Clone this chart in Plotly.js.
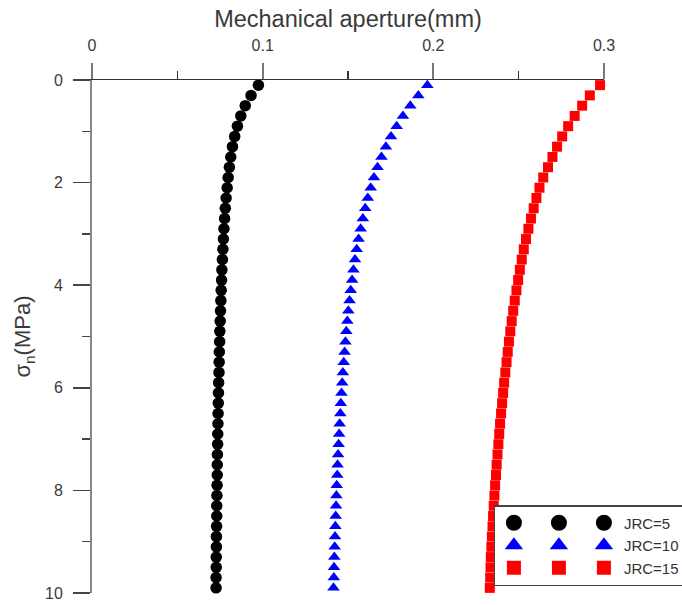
<!DOCTYPE html>
<html>
<head>
<meta charset="utf-8">
<script src="https://cdn.plot.ly/plotly-3.0.1.min.js"></script>
<style>
html,body{margin:0;padding:0;background:#fff;}
#chart{width:682px;height:605px;}
#chart .legend .traces{opacity:1 !important;}
</style>
</head>
<body>
<div id="chart"></div>
<script>
// Normal stress (MPa)
const sigmaN = [0.1,0.3,0.5,0.7,0.9,1.1,1.3,1.5,1.7,1.9,2.1,2.3,2.5,2.7,2.9,3.1,3.3,3.5,3.7,3.9,
  4.1,4.3,4.5,4.7,4.9,5.1,5.3,5.5,5.7,5.9,6.1,6.3,6.5,6.7,6.9,7.1,7.3,7.5,7.7,7.9,
  8.1,8.3,8.5,8.7,8.9,9.1,9.3,9.5,9.7,9.9];

// Mechanical aperture (mm)
const jrc5 = [0.0975,0.0932,0.0898,0.0872,0.0852,0.0836,0.0823,0.0813,0.0805,0.0798,
  0.0792,0.0786,0.0781,0.0777,0.0773,0.0770,0.0767,0.0764,0.0761,0.0759,
  0.0757,0.0755,0.0753,0.0751,0.0749,0.0748,0.0746,0.0745,0.0744,0.0742,
  0.0741,0.0740,0.0739,0.0738,0.0737,0.0736,0.0735,0.0734,0.0734,0.0733,
  0.0732,0.0731,0.0731,0.0730,0.0729,0.0729,0.0728,0.0728,0.0727,0.0727];
const jrc10 = [0.1965,0.1912,0.1865,0.1822,0.1785,0.1752,0.1722,0.1696,0.1673,0.1652,
  0.1633,0.1616,0.1601,0.1587,0.1574,0.1562,0.1551,0.1541,0.1532,0.1524,
  0.1516,0.1509,0.1502,0.1496,0.1490,0.1485,0.1480,0.1475,0.1470,0.1466,
  0.1462,0.1458,0.1455,0.1451,0.1448,0.1445,0.1442,0.1439,0.1437,0.1434,
  0.1432,0.1430,0.1428,0.1426,0.1424,0.1422,0.1420,0.1418,0.1417,0.1415];
const jrc15 = [0.2977,0.2917,0.2872,0.2828,0.2790,0.2755,0.2725,0.2698,0.2672,0.2644,
  0.2622,0.2604,0.2588,0.2572,0.2557,0.2543,0.2530,0.2518,0.2507,0.2497,
  0.2487,0.2477,0.2468,0.2459,0.2451,0.2443,0.2436,0.2429,0.2422,0.2415,
  0.2409,0.2403,0.2397,0.2391,0.2386,0.2381,0.2376,0.2371,0.2367,0.2362,
  0.2358,0.2354,0.2350,0.2347,0.2343,0.2340,0.2337,0.2335,0.2333,0.2331];

const seriesNames = ['JRC=5','JRC=10','JRC=15'];
const xTickVals = [0, 0.1, 0.2, 0.3];
const xTickText = ['0', '0.1', '0.2', '0.3'];
const yTickVals = [0, 2, 4, 6, 8, 10];
const yTickText = ['0', '2', '4', '6', '8', '10'];

const styles = [
  {color:'#000000', symbol:'circle', size:11.5, lsize:16},
  {color:'#0000ff', symbol:'triangle-up', size:11, lsize:16},
  {color:'#ff0000', symbol:'square', size:10, lsize:14}
];
const values = [jrc5, jrc10, jrc15];

// data traces
const traces = values.map((v, i) => ({
  x: v, y: sigmaN, type: 'scatter', mode: 'markers',
  name: seriesNames[i], showlegend: false,
  marker: {color: styles[i].color, symbol: styles[i].symbol, size: styles[i].size, line:{width:0}},
  cliponaxis: false
}));
// legend key: three sample symbols per series (each column is a legend group)
for (let col = 0; col < 3; col++) {
  for (let i = 0; i < 3; i++) {
    traces.push({
      x: values[i], y: sigmaN, type: 'scatter', mode: 'markers',
      visible: 'legendonly',
      name: col === 2 ? seriesNames[i] : '',
      legendgroup: 'col' + col, showlegend: true,
      marker: {color: styles[i].color, symbol: styles[i].symbol, size: styles[i].lsize, line:{width:0}}
    });
  }
}

const fontFam = 'Liberation Sans, Arial, sans-serif';
const layout = {
  width: 682, height: 605,
  margin: {l: 92, r: 78, t: 80, b: 12, pad: 0, autoexpand: false},
  paper_bgcolor: '#ffffff', plot_bgcolor: '#ffffff',
  font: {family: fontFam, size: 15, color: '#3a3a3a'},
  showlegend: true,
  legend: {
    orientation: 'h', traceorder: 'grouped',
    x: 0.785, y: 0.1715, xanchor: 'left', yanchor: 'top',
    bgcolor: '#ffffff', bordercolor: '#444', borderwidth: 1.5,
    font: {family: fontFam, size: 15, color: '#333'},
    itemwidth: 30, itemsizing: 'trace'
  },
  xaxis: {
    side: 'top', range: [0, 0.3], autorange: false,
    tickmode: 'array', tickvals: xTickVals, ticktext: xTickText,
    ticks: 'outside', ticklen: 16, tickwidth: 2, tickcolor: '#777',
    showline: true, linecolor: '#333', linewidth: 1.5,
    showgrid: false, zeroline: false,
    minor: {dtick: 0.05, tick0: 0, ticks: 'outside', ticklen: 8, tickwidth: 1.2, tickcolor: '#333', showgrid: false},
    tickfont: {family: fontFam, size: 16, color: '#3a3a3a'},
    ticklabelstandoff: 5,
    title: {text: 'Mechanical aperture(mm)', font: {family: fontFam, size: 23.5, color: '#3a3a3a'}, standoff: 3},
    anchor: 'y'
  },
  yaxis: {
    range: [10, 0], autorange: false,
    tickmode: 'array', tickvals: yTickVals, ticktext: yTickText,
    ticks: 'outside', ticklen: 17, tickwidth: 1.5, tickcolor: '#444',
    showline: true, linecolor: '#888', linewidth: 2,
    showgrid: false, zeroline: false,
    minor: {dtick: 1, tick0: 0, ticks: 'outside', ticklen: 8, tickwidth: 1.5, tickcolor: '#444', showgrid: false},
    tickfont: {family: fontFam, size: 16, color: '#3a3a3a'},
    ticklabelstandoff: 7,
    title: {text: '\u03C3<sub>n</sub>(MPa)', font: {family: fontFam, size: 22, color: '#3a3a3a'}, standoff: 8},
    anchor: 'x'
  }
};

Plotly.newPlot('chart', traces, layout, {displayModeBar: false, staticPlot: true});
</script>
</body>
</html>
